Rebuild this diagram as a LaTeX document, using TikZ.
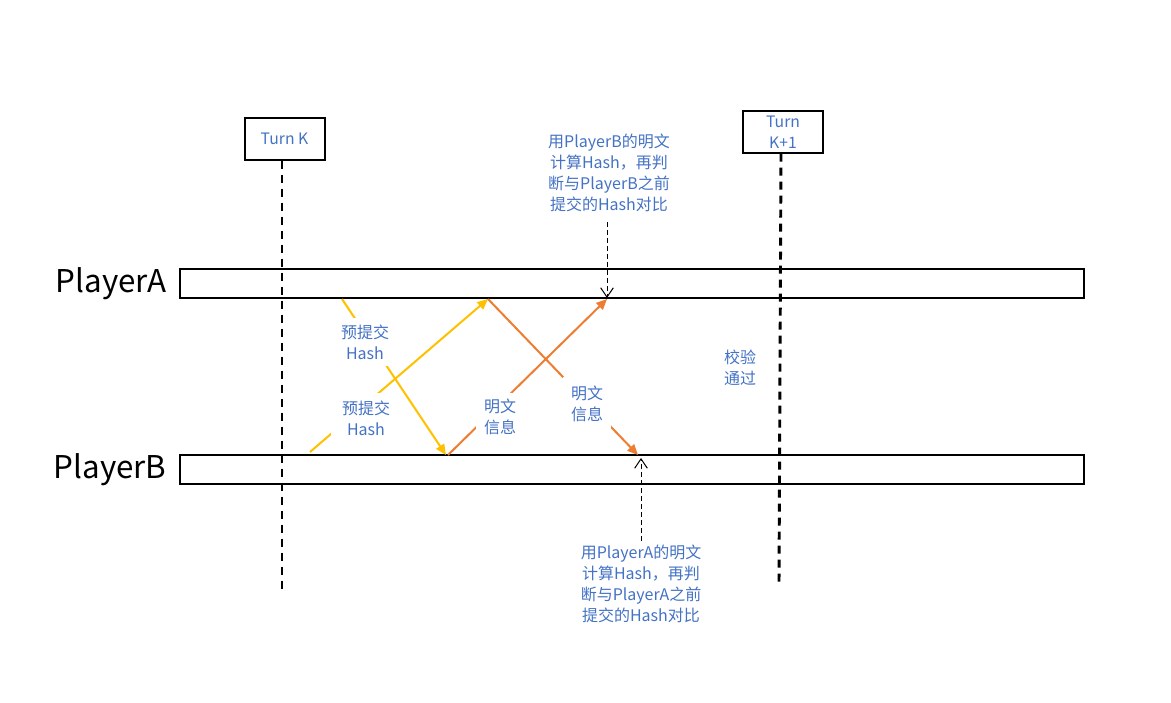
\documentclass[tikz,border=0pt]{standalone}
\usepackage{fontspec}
\setmainfont{Noto Sans CJK SC}
\usetikzlibrary{arrows.meta}
\definecolor{txtblue}{HTML}{4472C4}
\definecolor{ylw}{HTML}{FFC000}
\definecolor{org}{HTML}{ED7D31}
\begin{document}
\begin{tikzpicture}[x=0.75pt,y=-0.75pt,
  bar/.style={draw=black,line width=1.5pt,minimum width=678pt,minimum height=22pt,inner sep=0pt},
  turnbox/.style={draw=black,line width=1.5pt,minimum width=60pt,minimum height=31pt,inner sep=0pt,align=center,text=txtblue,font=\fontsize{11.8}{15.5}\selectfont},
  player/.style={font=\fontsize{23.5}{26}\selectfont,text=black,inner sep=0pt},
  lbl/.style={fill=white,text=txtblue,align=center,font=\fontsize{12}{15.5}\selectfont,inner sep=3pt},
  note/.style={text=txtblue,align=center,font=\fontsize{12}{15.8}\selectfont,inner sep=0pt},
  turnline/.style={line width=2.2pt,dash pattern=on 6pt off 4.5pt},
  yarr/.style={draw=ylw,line width=1.5pt,-{Triangle[length=8pt,width=7pt]}},
  oarr/.style={draw=org,line width=1.5pt,-{Triangle[length=8pt,width=7pt]}},
  notearr/.style={draw=black,line width=0.75pt,dash pattern=on 3.5pt off 2.5pt,-{Straight Barb[length=7pt,width=9.5pt,line width=0.75pt]}}
]
\useasboundingbox (0,0) rectangle (1171,703);

% turn boxes and dashed lines
\node[turnbox] (tk) at (284.5,139) {Turn K};
\node[turnbox] (tk1) at (783,132) {Turn\\K+1};
\coordinate (tkend) at (282,590);
\coordinate (tk1end) at (779,582);
\draw[turnline] (tk.south -| 282,0) -- (tkend);
\draw[turnline] (tk1.south -| 781,0) -- (tk1end);

% bars
\node[bar] (barA) at (631.5,283.5) {};
\node[bar] (barB) at (631.5,469.5) {};
\node[player] (pa) at (111,284) {PlayerA};
\node[player] (pb) at (110,470) {PlayerB};

% endpoints
\coordinate (y1s) at (310,452);
\coordinate (y1e) at (488,299);
\coordinate (y2s) at (342,299);
\coordinate (y2e) at (446,455);
\coordinate (o1s) at (448,455);
\coordinate (o1e) at (607,299);
\coordinate (o2s) at (488,299);
\coordinate (o2e) at (638,455);

\draw[yarr] (y1s) -- (y1e);
\draw[yarr] (y2s) -- (y2e);
\draw[oarr] (o1s) -- (o1e);
\draw[oarr] (o2s) -- (o2e);

% labels on arrows
\node[lbl,inner xsep=6pt,inner ysep=5pt] (l1) at (365,342) {预提交\\Hash};
\node[lbl,inner xsep=8pt,inner ysep=6pt] (l2) at (366,418) {预提交\\Hash};
\node[lbl,inner xsep=6pt,inner ysep=5pt] (l3) at (500,417) {明文\\信息};
\node[lbl,inner xsep=6pt,inner ysep=7pt] (l4) at (587,404) {明文\\信息};

% notes
\node[note] (nA) at (609,173) {用PlayerB的明文\\计算Hash，再判\\断与PlayerB之前\\提交的Hash对比};
\node[note] (nB) at (641,584) {用PlayerA的明文\\计算Hash，再判\\断与PlayerA之前\\提交的Hash对比};
\coordinate (nAs) at (607,222);
\coordinate (nAe) at (607,298);
\coordinate (nBs) at (641,541);
\coordinate (nBe) at (641,458);
\draw[notearr] (nAs) -- (nAe);
\draw[notearr] (nBs) -- (nBe);

\node[note] (pass) at (740,368) {校验\\通过};
\end{tikzpicture}
\end{document}
